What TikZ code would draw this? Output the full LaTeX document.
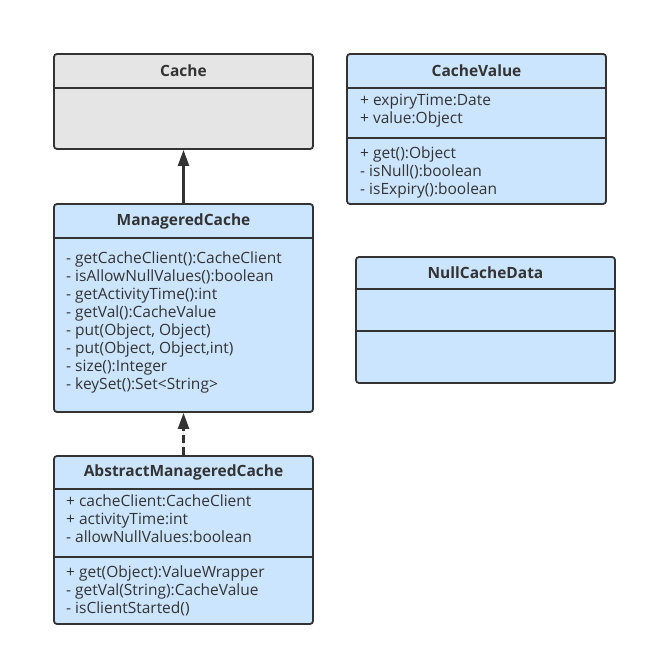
\documentclass[tikz,border=0pt]{standalone}
\usepackage{fontspec}
\setmainfont{Open Sans}
\usepackage{tikz}
\usetikzlibrary{positioning, arrows.meta}
\definecolor{boxblue}{RGB}{204,229,255}
\definecolor{boxgray}{RGB}{229,229,229}
\definecolor{edge}{RGB}{51,51,51}
\tikzset{
cls/.style={draw=edge, line width=1.8pt, rounded corners=3pt, fill=boxblue, minimum width=259, inner sep=0}, % class box
title/.style={font=\fontsize{15.5}{18}\selectfont\bfseries, text=edge}, % class name
member/.style={font=\fontsize{15.5}{18}\selectfont, text=edge, anchor=west, inner sep=0, text height=1.6ex, text depth=.45ex}, % one line of a class
divline/.style={draw=edge, line width=1.8pt}, % line between parts
}

\begin{document}
\begin{tikzpicture}[x=1pt, y=-1pt, >={Triangle[width=11pt, length=16pt]}]
    \useasboundingbox (0,0) rectangle (651,660);
    % classes
    \node[cls, fill=boxgray, minimum height=95] (cache) at (183.5,101.5) {};
    \node[cls, minimum height=208] (mc) at (183.5,308) {};
    \node[cls, minimum height=168] (amc) at (183.5,540) {};
    \node[cls, minimum height=150] (cv) at (476.5,129) {};
    \node[cls, minimum height=126] (ncd) at (485.5,320) {};

    \draw[divline] (54,88) -- (313,88);
    \draw[divline] (54,238) -- (313,238);
    \draw[divline] (54,489) -- (313,489);
    \draw[divline] (54,557) -- (313,557);
    \draw[divline] (347,88) -- (606,88);
    \draw[divline] (347,138) -- (606,138);
    \draw[divline] (356,289) -- (615,289);
    \draw[divline] (356,331) -- (615,331);

    % names
    \node[title] (cacheT) at (183.5,71) {Cache};
    \node[title] (mcT) at (183.5,221) {ManageredCache};
    \node[title] (amcT) at (183.5,472.5) {AbstractManageredCache};
    \node[title] (cvT) at (476.5,71) {CacheValue};
    \node[title] (ncdT) at (485.5,273) {NullCacheData};

    % ManageredCache
    \node[member] (mc1) at (66,260) {- getCacheClient():CacheClient};
    \node[member] (mc2) at (66,278) {- isAllowNullValues():boolean};
    \node[member] (mc3) at (66,296) {- getActivityTime():int};
    \node[member] (mc4) at (66,314) {- getVal():CacheValue};
    \node[member] (mc5) at (66,332) {- put(Object, Object)};
    \node[member] (mc6) at (66,350) {- put(Object, Object,int)};
    \node[member] (mc7) at (66,368) {- size():Integer};
    \node[member] (mc8) at (66,386) {- keySet():Set<String>};

    % AbstractManageredCache
    \node[member] (amc1) at (66,503) {+ cacheClient:CacheClient};
    \node[member] (amc2) at (66,521) {+ activityTime:int};
    \node[member] (amc3) at (66,539) {- allowNullValues:boolean};
    \node[member] (amc4) at (66,574) {+ get(Object):ValueWrapper};
    \node[member] (amc5) at (66,592) {- getVal(String):CacheValue};
    \node[member] (amc6) at (66,610) {- isClientStarted()};

    % CacheValue
    \node[member] (cv1) at (360,102) {+ expiryTime:Date};
    \node[member] (cv2) at (360,120) {+ value:Object};
    \node[member] (cv3) at (360,155) {+ get():Object};
    \node[member] (cv4) at (360,173) {- isNull():boolean};
    \node[member] (cv5) at (360,191) {- isExpiry():boolean};

    % relations
    \draw[->, draw=edge, fill=edge, line width=2.2pt] (mc.north) -- (cache.south);
    \draw[->, draw=edge, fill=edge, line width=2.2pt, dash pattern=on 8pt off 4pt] (amc.north) -- (mc.south);
\end{tikzpicture}
\end{document}
